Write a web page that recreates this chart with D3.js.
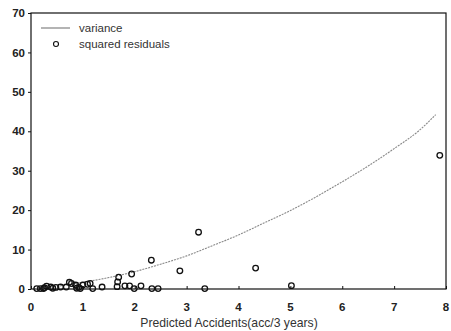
<!DOCTYPE html>
<html>
<head>
<meta charset="utf-8">
<script src="https://cdn.jsdelivr.net/npm/d3@7"></script>
<style>
  body { margin: 0; background: #fff; }
  svg { display: block; font-family: "Liberation Sans", Arial, sans-serif; }
</style>
</head>
<body>
<div id="chart"></div>
<script>
// variance curve
var varX = [0.1, 0.5, 1, 1.5, 2, 2.5, 3, 3.5, 4, 4.5, 5, 5.5, 6, 6.5, 7, 7.5, 7.8];
var varY = [0.15, 0.7, 1.7, 2.9, 4.4, 6.3, 8.4, 11, 13.7, 16.8, 19.9, 23.4, 27.2, 31.2, 35.6, 40.4, 44.2];

// squared residuals
var resX = [7.88, 3.23, 2.32, 2.87, 4.33, 5.02, 3.35, 1.94, 1.69, 1.67, 1.66, 1.81, 1.90, 1.99, 2.12,
            2.33, 2.45, 1.37, 1.19, 1.14, 1.09, 0.95, 0.92, 0.86, 0.78, 0.74, 0.68, 0.57, 0.48,
            0.38, 0.30, 0.24, 0.18, 0.11, 1.0, 0.42, 0.26, 0.88];
var resY = [33.9, 14.4, 7.3, 4.6, 5.3, 0.85, 0.1, 3.8, 3.0, 1.8, 0.6, 0.8, 0.8, 0.1, 0.8,
            0.1, 0.1, 0.5, 0.1, 1.4, 1.2, 0.1, 0.4, 1.0, 1.4, 1.7, 0.5, 0.5, 0.4,
            0.5, 0.7, 0.1, 0.1, 0.1, 1.0, 0.2, 0.3, 0.2];

var xTicks = [0, 1, 2, 3, 4, 5, 6, 7, 8];
var yTicks = [0, 10, 20, 30, 40, 50, 60, 70];

var W = 451, H = 331;
var margin = {top: 13, left: 31, right: 4, bottom: 42};

var svg = d3.select("#chart").append("svg")
    .attr("width", W)
    .attr("height", H);

var x = d3.scaleLinear().domain([0, 8]).range([margin.left, W - margin.right - 1]);
var y = d3.scaleLinear().domain([0, 70]).range([H - margin.bottom, margin.top]);

// frame
svg.append("rect")
    .attr("x", x(0)).attr("y", y(70))
    .attr("width", x(8) - x(0)).attr("height", y(0) - y(70))
    .attr("fill", "none").attr("stroke", "#111").attr("stroke-width", 1.2);

// x axis, ticks pointing inward
var xAxis = svg.append("g")
    .attr("transform", "translate(0," + y(0) + ")")
    .call(d3.axisTop(x).tickValues(xTicks).tickSize(3).tickFormat(""));
xAxis.select(".domain").remove();
xAxis.selectAll("line").attr("stroke", "#111");

svg.selectAll(".xlab")
    .data(xTicks)
    .enter().append("text")
    .attr("class", "xlab")
    .attr("x", d => x(d))
    .attr("y", y(0) + 22)
    .attr("text-anchor", "middle")
    .attr("font-size", 11.5)
    .attr("font-weight", "bold")
    .attr("fill", "#222")
    .text(d => d);

// y axis
var yAxis = svg.append("g")
    .attr("transform", "translate(" + x(0) + ",0)")
    .call(d3.axisLeft(y).tickValues(yTicks).tickSize(3).tickPadding(3));
yAxis.select(".domain").remove();
yAxis.selectAll("line").attr("stroke", "#111");
yAxis.selectAll("text")
    .attr("font-size", 11.5)
    .attr("font-weight", "bold")
    .attr("fill", "#222")
    .attr("font-family", "Liberation Sans, Arial, sans-serif");

// axis title
svg.append("text")
    .attr("x", 229)
    .attr("y", 327)
    .attr("text-anchor", "middle")
    .attr("font-size", 12.2)
    .attr("fill", "#333")
    .text("Predicted Accidents(acc/3 years)");

// variance line
var line = d3.line()
    .x(d => x(d[0]))
    .y(d => y(d[1]))
    .curve(d3.curveMonotoneX);

svg.append("path")
    .datum(d3.zip(varX, varY))
    .attr("d", line)
    .attr("fill", "none")
    .attr("stroke", "#8a8a8a")
    .attr("stroke-width", 1.1)
    .attr("stroke-dasharray", "2,1");

// squared residuals
svg.selectAll(".pt")
    .data(d3.zip(resX, resY))
    .enter().append("circle")
    .attr("class", "pt")
    .attr("cx", d => x(d[0]))
    .attr("cy", d => y(d[1]))
    .attr("r", 2.8)
    .attr("fill", "none")
    .attr("stroke", "#111")
    .attr("stroke-width", 1.3);

// legend
var lg = svg.append("g");
lg.append("line")
    .attr("x1", 41).attr("x2", 70)
    .attr("y1", 28).attr("y2", 28)
    .attr("stroke", "#777").attr("stroke-width", 1.1);
lg.append("text")
    .attr("x", 79).attr("y", 32)
    .attr("font-size", 11.5).attr("fill", "#333")
    .text("variance");
lg.append("circle")
    .attr("cx", 56).attr("cy", 44).attr("r", 2.5)
    .attr("fill", "none").attr("stroke", "#111").attr("stroke-width", 1.1);
lg.append("text")
    .attr("x", 79).attr("y", 48)
    .attr("font-size", 11.5).attr("fill", "#333")
    .text("squared residuals");
</script>
</body>
</html>
